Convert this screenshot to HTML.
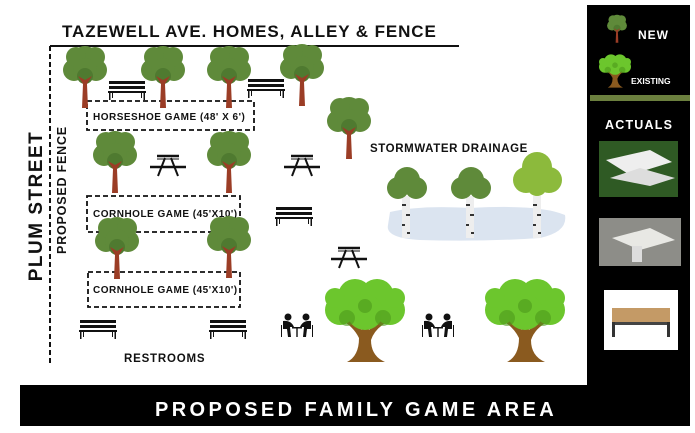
<!DOCTYPE html>
<html><head><meta charset="utf-8"><style>
html,body{margin:0;padding:0;background:#fff;}
svg{display:block;}
text{font-family:"Liberation Sans",sans-serif;font-weight:bold;}
</style></head><body>
<svg width="695" height="433" viewBox="0 0 695 433" xmlns="http://www.w3.org/2000/svg">
<defs>
<g id="tree">
 <circle cx="-11" cy="8" r="11" fill="#5f8a3a"/>
 <circle cx="11" cy="8" r="11" fill="#5f8a3a"/>
 <circle cx="0" cy="-2" r="14" fill="#5f8a3a"/>
 <circle cx="-9" cy="-5" r="10" fill="#5f8a3a"/>
 <circle cx="10" cy="-5" r="10" fill="#5f8a3a"/>
 <circle cx="0" cy="8" r="12" fill="#5f8a3a"/>
 <circle cx="0" cy="14" r="8" fill="#4f7a30"/>
 <path d="M-3,46 L-2,22 L-7,14 L0,18 L7,14 L2,22 L3,46 Z" fill="#9b3d26"/>
</g>
<g id="bench" fill="#111">
 <rect x="-18" y="-8" width="36" height="3"/>
 <rect x="-18" y="-3" width="36" height="3"/>
 <rect x="-19" y="2" width="38" height="2"/>
 <rect x="-18" y="4" width="1.5" height="7"/><rect x="16.5" y="4" width="1.5" height="7"/>
 <rect x="-15" y="4" width="1" height="5"/><rect x="14" y="4" width="1" height="5"/>
</g>
<g id="picnic" stroke="#111" fill="none">
 <line x1="-11" y1="-9" x2="11" y2="-9" stroke-width="2.5"/>
 <line x1="-11" y1="-6" x2="11" y2="-6" stroke-width="1"/>
 <line x1="-18" y1="2" x2="18" y2="2" stroke-width="2.5"/>
 <line x1="-3" y1="-7" x2="-10" y2="11" stroke-width="2"/>
 <line x1="3" y1="-7" x2="10" y2="11" stroke-width="2"/>
</g>
<g id="bigtree">
 <path d="M-18,44 Q-6,38 -6,20 Q-12,8 -24,2 L-20,0 Q-8,6 -3,12 L0,-2 L4,12 Q12,4 22,0 L24,3 Q10,10 6,22 Q6,38 20,44 Z" fill="#8a5a1f"/>
 <g fill="#6cc62d">
  <circle cx="-25" cy="-8" r="15"/><circle cx="25" cy="-8" r="15"/>
  <circle cx="-10" cy="-22" r="17"/><circle cx="12" cy="-22" r="17"/>
  <circle cx="0" cy="-6" r="18"/><circle cx="-30" cy="-20" r="10"/><circle cx="30" cy="-20" r="10"/>
 </g>
 <g fill="#4e9a1c" opacity=".6"><circle cx="-18" cy="0" r="8"/><circle cx="18" cy="0" r="8"/><circle cx="0" cy="-12" r="7"/></g>
</g>
<g id="birch">
 <rect x="-4" y="0" width="8" height="42" fill="#eee"/>
 <rect x="-4" y="8" width="4" height="2" fill="#333"/><rect x="0" y="18" width="4" height="2" fill="#333"/><rect x="-4" y="28" width="3" height="2" fill="#333"/><rect x="1" y="36" width="3" height="2" fill="#333"/>
</g>
<g id="chess" fill="#111">
 <circle cx="-9" cy="-10" r="3.5"/><circle cx="9" cy="-10" r="3.5"/>
 <path d="M-14,-6 Q-6,-7 -3,0 L-7,0 L-6,10 L-9,10 L-10,2 L-14,2 Z"/>
 <path d="M14,-6 Q6,-7 3,0 L7,0 L6,10 L9,10 L10,2 L14,2 Z"/>
 <rect x="-5" y="0" width="10" height="1.5"/><rect x="-0.7" y="0" width="1.4" height="10"/>
 <rect x="-16" y="-2" width="1" height="12"/><rect x="15" y="-2" width="1" height="12"/>
</g>
</defs>

<text x="62" y="37" font-size="17" letter-spacing="0.9" fill="#111">TAZEWELL AVE.  HOMES, ALLEY &amp; FENCE</text>
<line x1="50" y1="46" x2="459" y2="46" stroke="#111" stroke-width="2"/>
<line x1="50" y1="46" x2="50" y2="365" stroke="#111" stroke-width="2" stroke-dasharray="5,3"/>
<text transform="translate(42,206) rotate(-90)" text-anchor="middle" font-size="19" letter-spacing="1.5" fill="#111">PLUM STREET</text>
<text transform="translate(66,190) rotate(-90)" text-anchor="middle" font-size="12.5" letter-spacing="0.8" fill="#111">PROPOSED FENCE</text>

<g fill="none" stroke="#111" stroke-width="1.8" stroke-dasharray="5,3">
 <rect x="87" y="101" width="167" height="29"/>
 <rect x="87" y="196" width="153" height="36"/>
 <rect x="88" y="272" width="152" height="35"/>
</g>
<text x="93" y="120" font-size="10" letter-spacing="0.5" fill="#111">HORSESHOE GAME (48' X 6')</text>
<text x="93" y="217" font-size="10" letter-spacing="0.5" fill="#111">CORNHOLE GAME (45'X10')</text>
<text x="93" y="293" font-size="10" letter-spacing="0.5" fill="#111">CORNHOLE GAME (45'X10')</text>

<use href="#bench" x="127" y="89"/>
<use href="#bench" x="266" y="87"/>
<use href="#bench" x="294" y="215"/>
<use href="#bench" x="98" y="328"/>
<use href="#bench" x="228" y="328"/>
<use href="#picnic" x="168" y="165"/>
<use href="#picnic" x="302" y="165"/>
<use href="#picnic" x="349" y="257"/>

<use href="#tree" x="85" y="62"/>
<use href="#tree" x="163" y="62"/>
<use href="#tree" x="229" y="62"/>
<use href="#tree" x="302" y="60"/>
<use href="#tree" x="349" y="113"/>
<use href="#tree" x="115" y="147"/>
<use href="#tree" x="229" y="147"/>
<use href="#tree" x="117" y="233"/>
<use href="#tree" x="229" y="232"/>

<text x="370" y="152" font-size="11.5" letter-spacing="0.6" fill="#111">STORMWATER DRAINAGE</text>
<path d="M390,212 Q420,205 470,208 Q540,204 565,215 Q568,232 540,238 Q480,242 420,240 Q385,238 388,225 Z" fill="#dbe4f0"/>
<use href="#birch" x="406" y="196"/>
<use href="#birch" x="470" y="196"/>
<use href="#birch" x="537" y="196"/>
<g fill="#5f8a3a"><circle cx="398" cy="188" r="11"/><circle cx="416" cy="188" r="11"/><circle cx="407" cy="180" r="13"/></g>
<g fill="#5f8a3a"><circle cx="462" cy="188" r="11"/><circle cx="480" cy="188" r="11"/><circle cx="471" cy="180" r="13"/></g>
<g fill="#8cba3c"><circle cx="526" cy="180" r="13"/><circle cx="549" cy="180" r="13"/><circle cx="537" cy="167" r="15"/><circle cx="537" cy="186" r="10"/></g>

<use href="#bigtree" x="365" y="318"/>
<use href="#bigtree" x="525" y="318"/>
<use href="#chess" x="297" y="327"/>
<use href="#chess" x="438" y="327"/>

<text x="124" y="362" font-size="11.5" letter-spacing="0.8" fill="#111">RESTROOMS</text>

<rect x="20" y="385" width="670" height="41" fill="#000"/>
<text x="356" y="416" text-anchor="middle" font-size="20" letter-spacing="3.4" fill="#fff">PROPOSED FAMILY GAME AREA</text>

<rect x="587" y="5" width="103" height="381" fill="#000"/>
<g transform="translate(617,22) scale(0.45)"><use href="#tree"/></g>
<text x="638" y="39" font-size="12" letter-spacing="1" fill="#fff">NEW</text>
<g transform="translate(615,70) scale(0.4)"><use href="#bigtree"/></g>
<text x="631" y="84" font-size="8.5" fill="#fff">EXISTING</text>
<rect x="590" y="95" width="100" height="6" fill="#6b7f3e"/>
<text x="605" y="129" font-size="12.5" letter-spacing="1.2" fill="#fff">ACTUALS</text>
<rect x="599" y="141" width="79" height="56" fill="#2f5a24"/>
<path d="M606,160 L650,150 L672,162 L630,175 Z" fill="#eee"/><path d="M610,178 L640,168 L675,178 L650,186 Z" fill="#ddd"/>
<rect x="599" y="218" width="82" height="48" fill="#8d8d88"/>
<path d="M612,238 L650,228 L675,240 L640,250 Z" fill="#e8e8e4"/><rect x="632" y="246" width="10" height="16" fill="#ddd"/>
<rect x="604" y="290" width="74" height="60" fill="#fff"/>
<rect x="612" y="308" width="58" height="14" fill="#c49a66"/><rect x="612" y="322" width="58" height="3" fill="#444"/>
<rect x="612" y="322" width="3" height="15" fill="#333"/><rect x="667" y="322" width="3" height="15" fill="#333"/>
</svg>
</body></html>
